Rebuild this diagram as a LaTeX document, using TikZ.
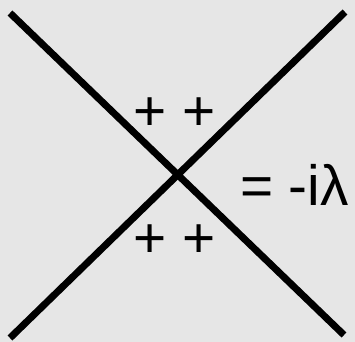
\documentclass[tikz,border=0pt]{standalone}
\usepackage{fontspec}
\setmainfont{Liberation Sans}
\definecolor{bg}{RGB}{230,230,230}
\begin{document}
\begin{tikzpicture}[x=1bp,y=-1bp,
  leg/.style={line width=7bp, black},
  lbl/.style={inner sep=0pt, outer sep=0pt, font=\fontsize{57}{60}\selectfont, anchor=base}]
\fill[bg] (0,0) rectangle (355,342);
\useasboundingbox (0,0) rectangle (355,342);
\coordinate (a1) at (10,13);
\coordinate (a2) at (344,335);
\coordinate (b1) at (10,338);
\coordinate (b2) at (345,12);
\draw[leg] (a1) -- (a2);
\draw[leg] (b1) -- (b2);
\node[lbl] (top) at (175,130) {+ +};
\node[lbl] (bot) at (175,257) {+ +};
\node[lbl, anchor=base west] (eq) at (240,205) {= -i\char"03BB};
\end{tikzpicture}
\end{document}
